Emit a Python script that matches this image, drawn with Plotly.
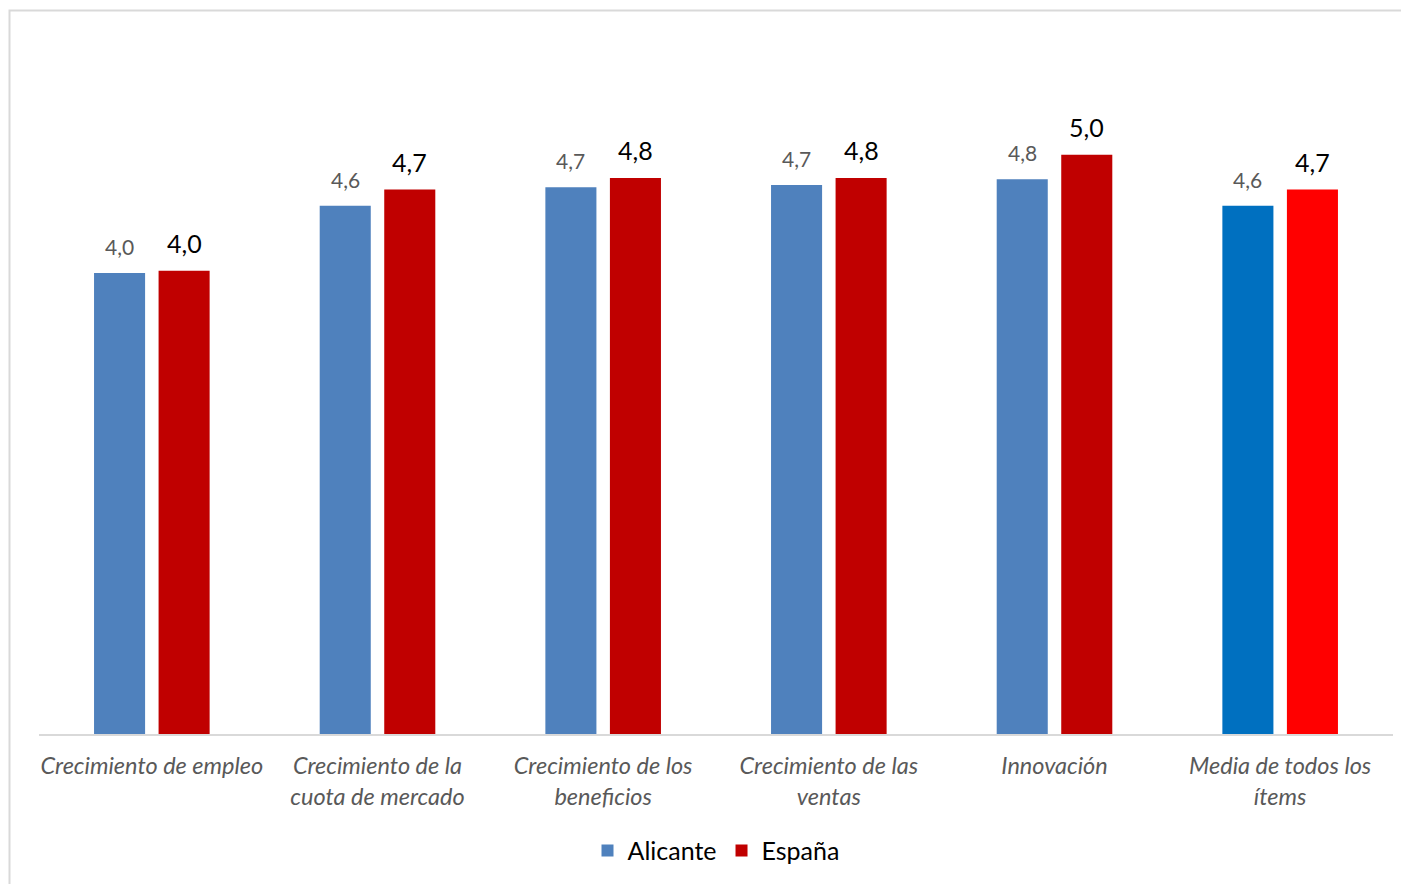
import plotly.graph_objects as go

categories = [
    "Crecimiento de empleo",
    "Crecimiento de la<br>cuota de mercado",
    "Crecimiento de los<br>beneficios",
    "Crecimiento de las<br>ventas",
    "Innovación",
    "Media de todos los<br>ítems",
]
alicante = [3.98, 4.56, 4.72, 4.74, 4.79, 4.56]
espana = [4.00, 4.70, 4.80, 4.80, 5.00, 4.70]
alicante_colors = ["#4F81BD"] * 5 + ["#0070C0"]
espana_colors = ["#C00000"] * 5 + ["#FF0000"]

FONT = "Lato"

fig = go.Figure()
fig.add_trace(go.Bar(name="Alicante", x=categories, y=alicante,
                     marker=dict(color=alicante_colors, line=dict(width=0))))
fig.add_trace(go.Bar(name="España", x=categories, y=espana,
                     marker=dict(color=espana_colors, line=dict(width=0))))

annotations = []
for c, a, e in zip(categories, alicante, espana):
    annotations.append(dict(x=c, y=a, xref="x", yref="y", text=f"{a:.1f}".replace(".", ","),
                            showarrow=False, xshift=-32.25, yanchor="bottom", yshift=12,
                            font=dict(family=FONT, size=21, color="#595959")))
    annotations.append(dict(x=c, y=e, xref="x", yref="y", text=f"{e:.1f}".replace(".", ","),
                            showarrow=False, xshift=32.25, yanchor="bottom", yshift=11,
                            font=dict(family=FONT, size=25, color="#000000")))

pw, ph = 1354, 695
fig.update_layout(
    width=1401, height=876,
    margin=dict(l=31, r=16, t=31, b=150, autoexpand=False),
    paper_bgcolor="white", plot_bgcolor="white",
    barmode="group", bargap=0.428, bargroupgap=0.209,
    separators=",.",
    showlegend=True,
    legend=dict(orientation="h", x=0.5, xanchor="center", y=-0.135, yanchor="top",
                font=dict(family=FONT, size=25, color="#000000"),
                itemwidth=30, traceorder="normal"),
    font=dict(family=FONT),
    annotations=annotations,
    shapes=[dict(type="rect", xref="paper", yref="paper",
                 x0=(9.5 - 39) / pw, x1=(1420 - 39) / pw,
                 y0=(734 - 900) / ph, y1=(734 - 10.5) / ph,
                 line=dict(color="#D9D9D9", width=2), fillcolor="rgba(0,0,0,0)", layer="below")],
)
fig.update_xaxes(showline=True, linecolor="#D9D9D9", linewidth=2, showgrid=False,
                 ticks="outside", ticklen=10, tickcolor="rgba(0,0,0,0)",
                 tickfont=dict(family=FONT, size=23.5, color="#595959", style="italic"),
                 tickangle=0)
fig.update_yaxes(range=[0, 6], visible=False, showgrid=False)

fig.write_html("out.html")
